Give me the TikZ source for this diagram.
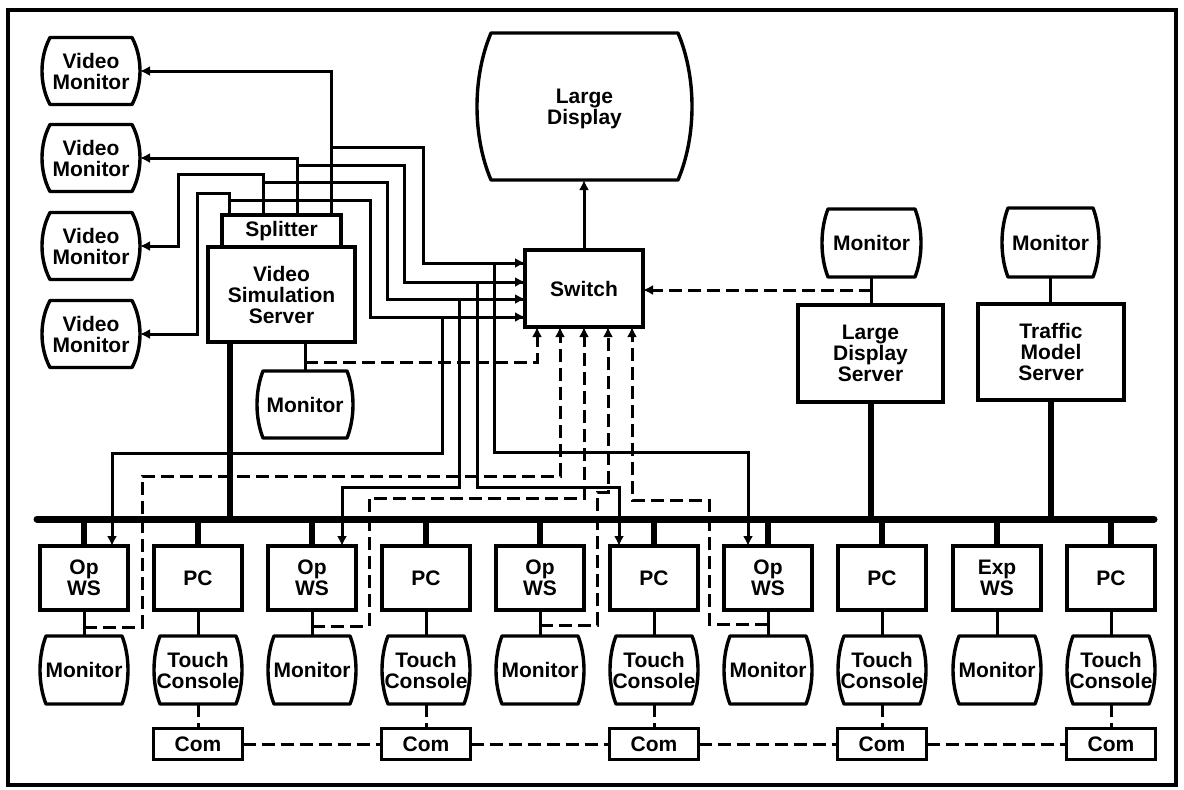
\documentclass[tikz,border=0pt]{standalone}
\usepackage{fontspec}
\setmainfont{Liberation Sans}
\usetikzlibrary{calc,arrows.meta}
\newcommand\tvdraw[2]{\draw[boxline] let \p1=(#1.north east), \p2=(#1.south west), \n1={0.3*(\y1-\y2)} in
  (\x2+#2,\y1) -- (\x1-#2,\y1) .. controls (\x1+#2/3,\y1-\n1) and (\x1+#2/3,\y2+\n1) .. (\x1-#2,\y2)
  -- (\x2+#2,\y2) .. controls (\x2-#2/3,\y2+\n1) and (\x2-#2/3,\y1-\n1) .. cycle;}
\tikzset{
  lbl/.style={font=\bfseries\fontsize{10.5}{10.5}\selectfont, align=center},
  boxline/.style={line width=1.7pt, line join=round},
  rbox/.style={lbl, draw, line width=1.7pt, inner sep=0pt, outer sep=0pt},
  tv/.style={lbl, inner sep=0pt, outer sep=0pt},
  wire/.style={line width=1.5pt},
  dwire/.style={line width=1.5pt, dash pattern=on 6.5pt off 3pt},
  busline/.style={line width=3.5pt, line cap=round},
  stub/.style={line width=3pt},
  arr/.style={-{Latex[length=5pt,width=5pt]}},
}
\begin{document}
\begin{tikzpicture}[x=0.5pt,y=-0.5pt]
\useasboundingbox (0,0) rectangle (1184,789);
\draw[line width=1.6pt] (8,10) rectangle (1176,785);
% upper nodes
\node[tv, minimum width=49pt, minimum height=33.5pt] (vm1) at (91,71) {Video\\Monitor};
\node[tv, minimum width=49pt, minimum height=33.5pt] (vm2) at (91,158) {Video\\Monitor};
\node[tv, minimum width=49pt, minimum height=33.5pt] (vm3) at (91,246) {Video\\Monitor};
\node[tv, minimum width=49pt, minimum height=33.5pt] (vm4) at (91,334) {Video\\Monitor};
\node[rbox, minimum width=59.5pt, minimum height=16pt] (split) at (281.5,231) {Splitter};
\node[rbox, minimum width=73.5pt, minimum height=47.5pt] (vss) at (281.5,294.5) {Video\\Simulation\\Server};
\node[tv, minimum width=48pt, minimum height=33.5pt] (vssmon) at (305,404.5) {Monitor};
\node[tv, minimum width=107.5pt, minimum height=73.5pt, text depth=-3pt] (ld) at (584.5,106.5) {Large\\Display};
\node[rbox, minimum width=59pt, minimum height=38.5pt] (sw) at (584,288.5) {Switch};
\node[tv, minimum width=49.5pt, minimum height=34pt] (ldsmon) at (871.5,243) {Monitor};
\node[rbox, minimum width=72.5pt, minimum height=48.5pt] (lds) at (870.5,353.5) {Large\\Display\\Server};
\node[tv, minimum width=48.5pt, minimum height=34.5pt] (tmsmon) at (1050.5,242.5) {Monitor};
\node[rbox, minimum width=73pt, minimum height=48pt] (tms) at (1051,352) {Traffic\\Model\\Server};
% bottom row
\foreach \i/\xx/\wl/\ml in {1/84/{Op\\WS}/{Monitor}, 2/198/{PC}/{Touch\\Console}, 3/312/{Op\\WS}/{Monitor}, 4/426/{PC}/{Touch\\Console}, 5/540/{Op\\WS}/{Monitor}, 6/654/{PC}/{Touch\\Console}, 7/768/{Op\\WS}/{Monitor}, 8/882/{PC}/{Touch\\Console}, 9/997/{Exp\\WS}/{Monitor}, 10/1111/{PC}/{Touch\\Console}} {
  \node[rbox, minimum width=44pt, minimum height=32pt] (w\i) at (\xx,578) {\wl};
  \node[tv, minimum width=44pt, minimum height=34pt] (m\i) at (\xx,670) {\ml};
}
\foreach \i/\xx in {2/198,4/426,6/654,8/882,10/1111}
  \node[rbox, minimum width=44.5pt, minimum height=15.5pt] (c\i) at (\xx,744) {Com};
% tv outlines
\foreach \nm/\aa in {vm1/4pt,vm2/4pt,vm3/4pt,vm4/4pt,vssmon/3pt,ld/7pt,ldsmon/3pt,tmsmon/3pt,m1/3pt,m2/3pt,m3/3pt,m4/3pt,m5/3pt,m6/3pt,m7/3pt,m8/3pt,m9/3pt,m10/3pt}
  {\tvdraw{\nm}{\aa}}
% bus
\coordinate (busL) at (37,519);
\coordinate (busR) at (1154,519);
\draw[busline] (busL) -- (busR);
\foreach \i in {1,...,10} \draw[stub] (w\i.north) -- (w\i.north |- busL);
\draw[stub] (vss.south -| 230,0) -- (busL -| 230,0);
\draw[stub] (lds.south) -- (lds.south |- busL);
\draw[stub] (tms.south) -- (tms.south |- busL);
% splitter to video monitors
\draw[wire,arr] (split.north -| 331,0) |- (vm1.east);
\draw[wire,arr] (split.north -| 297,0) |- (vm2.east);
\draw[wire,arr] (split.north -| 263,0) |- (178,174) |- (vm3.east);
\draw[wire,arr] (split.north -| 229,0) |- (197,193) |- (vm4.east);
% splitter to switch
\draw[wire,arr] (split.north -| 331,0) -- (331,147) -| (423,263) -- (sw.west |- 0,263);
\draw[wire,arr] (split.north -| 297,0) -- (297,165) -| (404,282) -- (sw.west |- 0,282);
\draw[wire,arr] (split.north -| 263,0) -- (263,182) -| (387,299) -- (sw.west |- 0,299);
\draw[wire,arr] (split.north -| 229,0) -- (229,200) -| (370,317) -- (sw.west |- 0,317);
% branches to workstations
\draw[wire,arr] (sw.west |- 0,263) -- (494,263) -- (494,452) -| (w7.north -| 748,0);
\draw[wire,arr] (sw.west |- 0,282) -- (477,282) -- (477,487) -| (w6.north -| 619,0);
\draw[wire,arr] (sw.west |- 0,299) -- (459,299) -- (459,487) -| (w3.north -| 342,0);
\draw[wire,arr] (sw.west |- 0,317) -- (442,317) -- (442,453) -| (w1.north -| 112,0);
% switch to large display
\draw[wire,arr] (sw.north) -- (sw.north |- ld.south);
% vss monitor
\draw[wire] (vssmon.north |- vss.south) -- (vssmon.north);
\draw[dwire,arr] (vssmon.north |- 0,362) -| (sw.south -| 537,0);
% lds / tms monitors
\draw[wire] (ldsmon.south) -- (ldsmon.south |- lds.north);
\draw[wire] (tmsmon.south) -- (tmsmon.south |- tms.north);
\draw[dwire,arr] (ldsmon.south |- 0,290) -- (sw.east |- 0,290);
% workstation monitor links
\foreach \i in {1,...,10} \draw[wire] (w\i.south) -- (m\i.north);
\draw[dwire,arr] (w1.south |- 0,627) -| (142,476) -| (sw.south -| 560,0);
\draw[dwire,arr] (w3.south |- 0,626) -| (369,498) -| (sw.south -| 584,0);
\draw[dwire,arr] (w5.south |- 0,625) -| (597,492) -| (sw.south -| 608,0);
\draw[dwire,arr] (w7.south |- 0,624) -| (709,500) -| (sw.south -| 632,0);
% consoles to com
\foreach \i in {2,4,6,8,10} \draw[dwire] (m\i.south) -- (c\i.north);
\draw[dwire] (c2.east) -- (c4.west);
\draw[dwire] (c4.east) -- (c6.west);
\draw[dwire] (c6.east) -- (c8.west);
\draw[dwire] (c8.east) -- (c10.west);
\end{tikzpicture}
\end{document}
